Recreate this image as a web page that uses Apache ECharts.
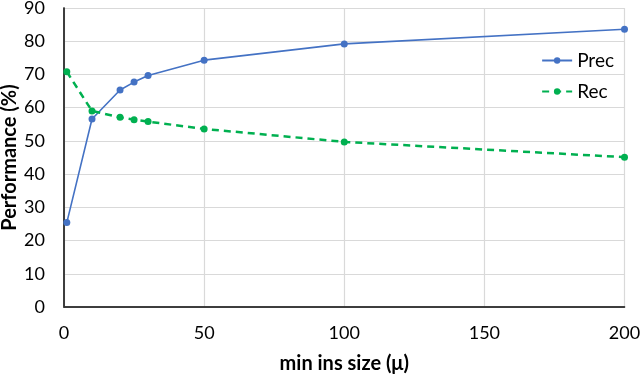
<!DOCTYPE html>
<html><head><meta charset="utf-8">
<script src="https://cdn.jsdelivr.net/npm/echarts@6/dist/echarts.min.js"></script>
<style>html,body{margin:0;padding:0;background:#fff}#c{width:640px;height:374px}</style>
</head><body><div id="c"></div>
<script>
const xValues = [1, 10, 20, 25, 30, 50, 100, 200];
const precValues = [25.4, 56.6, 65.3, 67.7, 69.7, 74.3, 79.2, 83.6];
const recValues = [70.8, 59.0, 57.1, 56.4, 55.8, 53.6, 49.7, 45.1];
const xTitle = 'min ins size (μ)';
const yTitle = 'Performance (%)';
const seriesNames = ['Prec', 'Rec'];

const font = 'Lato, sans-serif';
const chart = echarts.init(document.getElementById('c'));
chart.setOption({
  animation: false,
  grid: {left: 64, right: 15.5, top: 8, bottom: 67, outerBoundsMode: 'none', containLabel: false},
  legend: {
    orient: 'vertical', right: 21, top: 46, itemGap: 12, itemWidth: 30, itemHeight: 8,
    textStyle: {fontFamily: font, fontSize: 19, color: '#000'},
    data: seriesNames
  },
  xAxis: [{
    type: 'value', min: 0, max: 200, interval: 50,
    name: xTitle, nameLocation: 'middle', nameGap: 47, nameMoveOverlap: false,
    nameTextStyle: {fontFamily: font, fontSize: 20, fontWeight: 'bold', color: '#000'},
    axisLine: {lineStyle: {color: '#777', width: 1.5}},
    axisTick: {show: false},
    axisLabel: {fontFamily: font, fontSize: 18, color: '#000', margin: 17},
    splitLine: {lineStyle: {color: '#d9d9d9', width: 1.2}}
  }, {
    type: 'value', position: 'top', min: 0, max: 200,
    axisLine: {show: true, lineStyle: {color: '#222', width: 1.5}},
    axisTick: {show: false}, axisLabel: {show: false}, splitLine: {show: false}
  }],
  yAxis: [{
    type: 'value', min: 0, max: 90, interval: 10,
    name: yTitle, nameLocation: 'middle', nameGap: 44, nameRotate: 90, nameMoveOverlap: false,
    nameTextStyle: {fontFamily: font, fontSize: 20, fontWeight: 'bold', color: '#000'},
    axisLine: {show: true, lineStyle: {color: '#777', width: 1.5}},
    axisTick: {show: false},
    axisLabel: {fontFamily: font, fontSize: 18, color: '#000', margin: 19},
    splitLine: {lineStyle: {color: '#d9d9d9', width: 1.2}}
  }, {
    type: 'value', position: 'right', min: 0, max: 90,
    axisLine: {show: true, lineStyle: {color: '#222', width: 1.5}},
    axisTick: {show: false}, axisLabel: {show: false}, splitLine: {show: false}
  }],
  series: [{
    name: seriesNames[0], type: 'line',
    data: xValues.map((x, i) => [x, precValues[i]]),
    symbol: 'circle', symbolSize: 7,
    lineStyle: {color: '#4472C4', width: 1.6},
    itemStyle: {color: '#4472C4'}
  }, {
    name: seriesNames[1], type: 'line',
    data: xValues.map((x, i) => [x, recValues[i]]),
    symbol: 'circle', symbolSize: 7,
    lineStyle: {color: '#00B050', width: 2.5, type: [7, 5]},
    itemStyle: {color: '#00B050'}
  }]
});
</script></body></html>
